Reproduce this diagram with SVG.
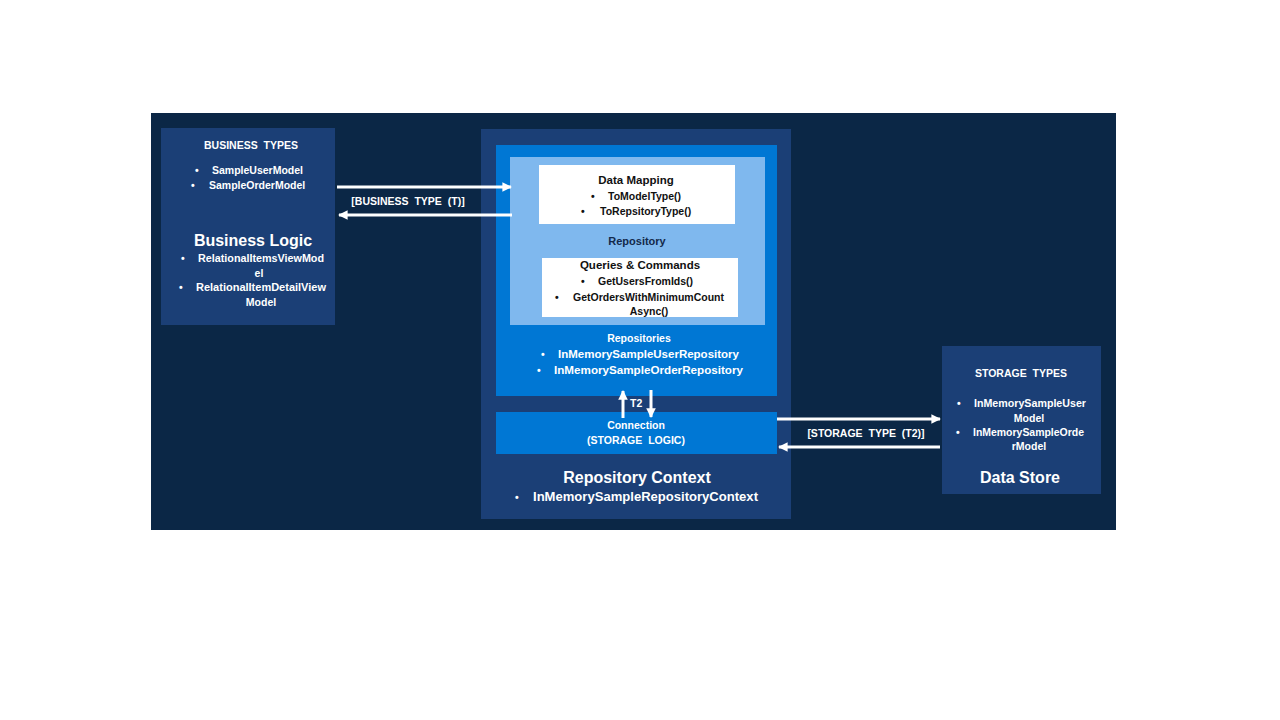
<svg xmlns="http://www.w3.org/2000/svg" width="1280" height="720" viewBox="0 0 1280 720">
<defs>
<style>
text{font-family:"Liberation Sans",Arial,sans-serif;font-weight:bold;}
.s{font-size:10.5px;fill:#ffffff;}
.d{font-size:10.5px;fill:#111111;}
.h{font-size:16px;fill:#ffffff;}
.c{text-anchor:middle;}
.w{word-spacing:3px;}
.con{stroke:#ffffff;stroke-width:3;fill:none;}
</style>
<marker id="ah" viewBox="0 0 10 10" refX="9" refY="5" markerWidth="3.2" markerHeight="3.2" orient="auto">
<path d="M0,0 L10,5 L0,10 z" fill="#ffffff"/>
</marker>
</defs>
<rect x="0" y="0" width="1280" height="720" fill="#ffffff"/>
<rect x="151" y="113" width="965" height="417" fill="#0B2746"/>

<g id="business-logic">
<rect x="161" y="128" width="174" height="197" fill="#1B3F76"/>
<text class="s c w" x="251" y="149">BUSINESS TYPES</text>
<text class="s" x="195" y="174">•</text><text class="s" x="212" y="174">SampleUserModel</text>
<text class="s" x="191" y="189">•</text><text class="s" x="209" y="189">SampleOrderModel</text>
<text class="h c" x="253" y="246">Business Logic</text>
<text class="s" x="181" y="262">•</text><text class="s" x="198" y="262" textLength="126" lengthAdjust="spacingAndGlyphs">RelationalItemsViewMod</text>
<text class="s c" x="259" y="277">el</text>
<text class="s" x="179" y="291">•</text><text class="s" x="196" y="291" textLength="130" lengthAdjust="spacingAndGlyphs">RelationalItemDetailView</text>
<text class="s c" x="261" y="306">Model</text>
</g>

<g id="repository-context">
<rect x="481" y="129" width="310" height="390" fill="#1B3F76"/>
<text class="h c" x="637" y="483">Repository Context</text>
<text class="s" x="515" y="501">•</text><text class="s" x="533" y="501" textLength="225" lengthAdjust="spacingAndGlyphs" style="font-size:12px">InMemorySampleRepositoryContext</text>
</g>

<g id="repositories">
<rect x="496" y="145" width="281" height="251" fill="#0077D4"/>
<text class="s c" x="639" y="342">Repositories</text>
<text class="s" x="541" y="358">•</text><text class="s" x="558" y="358" textLength="181" lengthAdjust="spacingAndGlyphs">InMemorySampleUserRepository</text>
<text class="s" x="537" y="374">•</text><text class="s" x="554" y="374" textLength="189" lengthAdjust="spacingAndGlyphs">InMemorySampleOrderRepository</text>
</g>

<g id="repository">
<rect x="510" y="157" width="255" height="168" fill="#7FB8EE"/>
<text class="c" x="637" y="245" style="font-size:11px;fill:#13294B">Repository</text>
</g>

<g id="data-mapping">
<rect x="539" y="165" width="196" height="59" fill="#ffffff"/>
<text class="d c" x="636" y="184" style="font-size:11.5px">Data Mapping</text>
<text class="d" x="591" y="200">•</text><text class="d" x="608" y="200">ToModelType()</text>
<text class="d" x="581" y="215">•</text><text class="d" x="600" y="215">ToRepsitoryType()</text>
</g>

<g id="queries-commands">
<rect x="542" y="258" width="196" height="59" fill="#ffffff"/>
<text class="d c" x="640" y="269" style="font-size:11.5px">Queries &amp; Commands</text>
<text class="d" x="581" y="285">•</text><text class="d" x="598" y="285">GetUsersFromIds()</text>
<text class="d" x="555" y="301">•</text><text class="d" x="573" y="301" textLength="151" lengthAdjust="spacingAndGlyphs">GetOrdersWithMinimumCount</text>
<text class="d c" x="649" y="315">Async()</text>
</g>

<g id="connection">
<rect x="496" y="412" width="281" height="42" fill="#0077D4"/>
<text class="s c" x="636" y="429">Connection</text>
<text class="s c w" x="636" y="444">(STORAGE LOGIC)</text>
</g>

<g id="data-store">
<rect x="942" y="346" width="159" height="148" fill="#1B3F76"/>
<text class="s c w" x="1021" y="377">STORAGE TYPES</text>
<text class="s" x="957" y="407">•</text><text class="s" x="974" y="407" textLength="112" lengthAdjust="spacingAndGlyphs">InMemorySampleUser</text>
<text class="s c" x="1029" y="422">Model</text>
<text class="s" x="956" y="436">•</text><text class="s" x="973" y="436" textLength="111" lengthAdjust="spacingAndGlyphs">InMemorySampleOrde</text>
<text class="s c" x="1029" y="450">rModel</text>
<text class="h c" x="1020" y="483">Data Store</text>
</g>

<g id="connectors">
<line class="con" x1="337" y1="187" x2="511" y2="187" marker-end="url(#ah)"/>
<line class="con" x1="512" y1="215" x2="339" y2="215" marker-end="url(#ah)"/>
<text class="s c w" x="408" y="205">[BUSINESS TYPE (T)]</text>
<line class="con" x1="623" y1="418" x2="623" y2="391" marker-end="url(#ah)"/>
<line class="con" x1="651" y1="390" x2="651" y2="417" marker-end="url(#ah)"/>
<text class="s" x="630" y="407">T2</text>
<line class="con" x1="777" y1="419" x2="940" y2="419" marker-end="url(#ah)"/>
<line class="con" x1="940" y1="447" x2="779" y2="447" marker-end="url(#ah)"/>
<text class="s c w" x="866" y="437">[STORAGE TYPE (T2)]</text>
</g>
</svg>
